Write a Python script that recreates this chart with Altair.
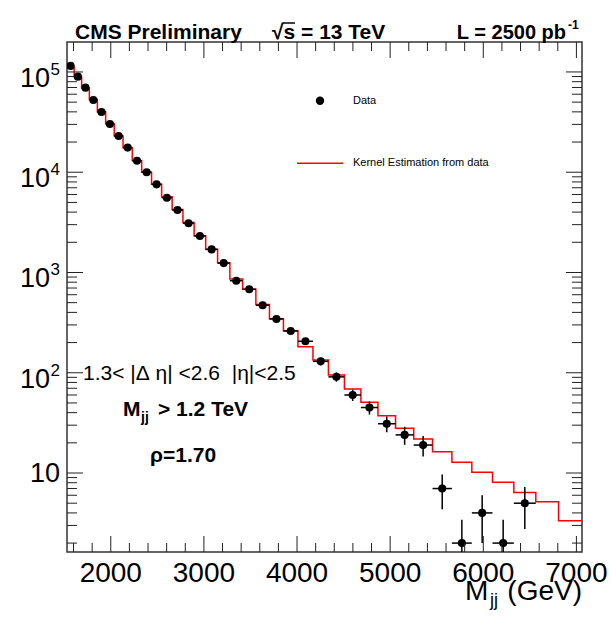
import math
import altair as alt
import pandas as pd

# ---------------- data ----------------
bin_edges = [1530, 1607, 1687, 1770, 1856, 1945, 2037, 2132, 2231, 2332, 2438,
             2546, 2659, 2775, 2895, 3019, 3147, 3279, 3416, 3558, 3704, 3854,
             4010, 4171, 4337, 4509, 4686, 4869, 5058, 5253, 5455, 5663, 5877,
             6099, 6328, 6564, 6808, 7060]

data_values = [115000, 89800, 69700, 52600, 39900, 30300, 23000, 17600, 13000,
               10000, 7570, 5570, 4200, 3100, 2310, 1700, 1240, 828, 680, 471,
               344, 261, 206, 130, 91, 60, 45, 31, 24, 19, 7, 2, 4, 2, 5]

kernel_values = [112000, 89000, 69000, 53000, 40000, 30500, 23000, 17500, 13100,
                 10000, 7600, 5700, 4250, 3150, 2330, 1710, 1250, 860, 680, 480,
                 345, 262, 182, 134, 95, 69, 50.7, 37.3, 27.9, 21.8, 16.3, 12.8,
                 10.2, 8.07, 6.41, 5.18, 3.34]

x_major_ticks = [2000, 3000, 4000, 5000, 6000, 7000]
x_minor_ticks = [v for v in range(1600, 7001, 200) if v % 1000 != 0]
y_major_ticks = [10, 100, 1000, 10000, 100000]
y_minor_ticks = [m * 10 ** k for k in range(0, 5) for m in range(2, 10)]
x_tick_labels = ["2000", "3000", "4000", "5000", "6000", "7000"]
y_sup_labels = ["", "2", "3", "4", "5"]

FONT = "Liberation Sans"
W, H = 515, 510
NB = "\u00a0"

xs = alt.Scale(domain=[1530, 7060], nice=False, zero=False)
ys = alt.Scale(type="log", domain=[1.63, 1.99e5], nice=False)

n = len(data_values)
df_data = pd.DataFrame({
    "lo": bin_edges[:n],
    "hi": bin_edges[1:n + 1],
    "x": [(bin_edges[i] + bin_edges[i + 1]) / 2 for i in range(n)],
    "y": data_values,
    "ylo": [v - math.sqrt(v) for v in data_values],
    "yhi": [v + math.sqrt(v) for v in data_values],
})
df_kernel = pd.DataFrame({"x": bin_edges, "y": kernel_values + [kernel_values[-1]]})

X = lambda f: alt.X(f, type="quantitative", scale=xs, axis=None)
Y = lambda f: alt.Y(f, type="quantitative", scale=ys, axis=None)

kernel_line = alt.Chart(df_kernel).mark_line(
    interpolate="step-after", color="#ff0000", strokeWidth=1.5, clip=True
).encode(x=X("x"), y=Y("y"))

vbars = alt.Chart(df_data).mark_rule(color="black", strokeWidth=1.5, clip=True).encode(
    x=X("x"), y=Y("ylo"), y2="yhi")
hbars = alt.Chart(df_data).mark_rule(color="black", strokeWidth=1.5, clip=True).encode(
    x=X("lo"), x2="hi", y=Y("y"))
points = alt.Chart(df_data).mark_circle(size=66, color="black", opacity=1, clip=True).encode(
    x=X("x"), y=Y("y"))

TICK = "#222222"


def xticks(vals, length):
    d = pd.DataFrame({"v": vals})
    bottom = alt.Chart(d).mark_rule(color=TICK, strokeWidth=1).encode(
        x=X("v"), y=alt.value(H), y2=alt.value(H - length))
    top = alt.Chart(d).mark_rule(color=TICK, strokeWidth=1).encode(
        x=X("v"), y=alt.value(0), y2=alt.value(length))
    return [bottom, top]


def yticks(vals, length):
    d = pd.DataFrame({"v": vals})
    left = alt.Chart(d).mark_rule(color=TICK, strokeWidth=1).encode(
        y=Y("v"), x=alt.value(0), x2=alt.value(length))
    right = alt.Chart(d).mark_rule(color=TICK, strokeWidth=1).encode(
        y=Y("v"), x=alt.value(W), x2=alt.value(W - length))
    return [left, right]


tick_layers = (xticks(x_major_ticks, 16) + xticks(x_minor_ticks, 9)
               + yticks(y_major_ticks, 16) + yticks(y_minor_ticks, 10))

# x tick labels
df_xl = pd.DataFrame({"v": x_major_ticks, "lab": x_tick_labels})
x_labels = alt.Chart(df_xl).mark_text(
    font=FONT, fontSize=28, align="center", baseline="alphabetic", color="black"
).encode(x=X("v"), y=alt.value(H + 30), text="lab:N")

# y tick labels
df_yl = pd.DataFrame({"v": y_major_ticks, "sup": y_sup_labels})
y_ten_plain = alt.Chart(df_yl[df_yl.sup == ""]).mark_text(
    font=FONT, fontSize=27, align="right", baseline="alphabetic", dy=9, color="black"
).encode(y=Y("v"), x=alt.value(-7), text=alt.value("10"))
y_ten_base = alt.Chart(df_yl[df_yl.sup != ""]).mark_text(
    font=FONT, fontSize=27, align="right", baseline="alphabetic", dy=15, color="black"
).encode(y=Y("v"), x=alt.value(-17), text=alt.value("10"))
y_ten_sup = alt.Chart(df_yl[df_yl.sup != ""]).mark_text(
    font=FONT, fontSize=17, align="left", baseline="alphabetic", dy=3, color="black"
).encode(y=Y("v"), x=alt.value(-16.5), text="sup:N")


def txt(s, x, y, size, weight="normal", align="left", baseline="alphabetic"):
    return alt.Chart(pd.DataFrame({"t": [s]})).mark_text(
        font=FONT, fontSize=size, fontWeight=weight, align=align, baseline=baseline,
        color="black"
    ).encode(x=alt.value(x), y=alt.value(y), text="t:N")


# axis title  M_jj (GeV)
title_layers = [
    txt("(GeV)", W, H + 48, 28, align="right"),
    txt("M", W - 117, H + 48, 28),
    txt("jj", W - 92, H + 54, 18),
]

# header
header = [
    txt("CMS Preliminary", 8, -3, 21, "bold"),
    txt("\u221As = 13 TeV", 205, -3, 21, "bold"),
    txt("L = 2500 pb", 499, -3, 20, "bold", align="right"),
    txt("-1", 501, -13, 12, "bold"),
]
overline = alt.Chart(pd.DataFrame({"t": ["bar"]})).mark_rule(
    color="black", strokeWidth=1.5).encode(
    x=alt.value(216), x2=alt.value(228), y=alt.value(-19))

# annotations inside the frame
annot = [
    txt("1.3<" + NB + "|\u0394" + NB + "\u03b7|" + NB + "<2.6" + NB + NB + "|\u03b7|<2.5",
        16, 338, 21, "normal"),
    txt("M", 56, 374, 21, "bold"),
    txt("jj", 74, 380, 14, "bold"),
    txt("> 1.2 TeV", 91, 374, 21, "bold"),
    txt("\u03c1=1.70", 83, 420, 21, "bold"),
]

# legend
leg_point = alt.Chart(pd.DataFrame({"t": ["Data"]})).mark_circle(
    size=70, color="black", opacity=1).encode(x=alt.value(253), y=alt.value(58.7))
leg_line = alt.Chart(pd.DataFrame({"t": ["Kernel"]})).mark_rule(
    color="#ff0000", strokeWidth=1.5).encode(x=alt.value(230), x2=alt.value(276), y=alt.value(121.3))
legend = [
    leg_point, leg_line,
    txt("Data", 286, 58.7, 11, baseline="middle"),
    txt("Kernel Estimation from data", 286, 121.3, 11, baseline="middle"),
]

chart = alt.layer(
    kernel_line, vbars, hbars, points,
    *tick_layers, x_labels, y_ten_plain, y_ten_base, y_ten_sup,
    *title_layers, *header, overline, *annot, *legend
).properties(
    width=W, height=H,
    padding={"left": 59, "top": 34, "right": 26, "bottom": 60},
    autosize=alt.AutoSizeParams(type="none"),
).configure_view(stroke="#333333", strokeWidth=1.5)

chart.save("out.html", embed_options={"renderer": "svg", "actions": False})
